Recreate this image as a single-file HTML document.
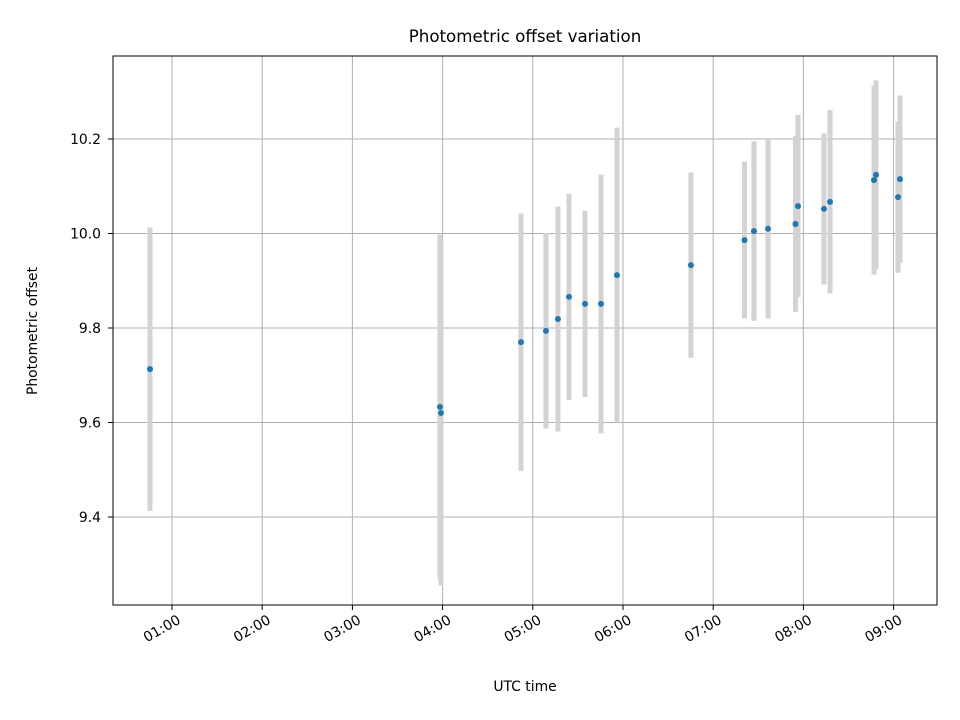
<!DOCTYPE html>
<html><head><meta charset="utf-8"><style>
html,body{margin:0;padding:0;background:#fff;}
svg{display:block;font-family:"DejaVu Sans","Liberation Sans",sans-serif;}
</style></head><body>
<svg id="chart" width="960" height="720" viewBox="0 0 960 720" xmlns="http://www.w3.org/2000/svg">
<rect width="960" height="720" fill="#fff"/>
<text x="525" y="42" text-anchor="middle" font-size="16.67">Photometric offset variation</text>
<text x="525" y="691" text-anchor="middle" font-size="13.9">UTC time</text>
<text transform="translate(37,331) rotate(-90)" text-anchor="middle" font-size="13.9">Photometric offset</text>
<g id="grid"></g>
<g id="errs"></g>
<g id="pts"></g>
<g id="axes"></g>
<rect x="113" y="56" width="824" height="549" fill="none" stroke="#000" stroke-width="1"/>
</svg>
<script>
const times = [0.756,3.971,3.982,4.869,5.146,5.279,5.401,5.579,5.756,5.933,6.753,7.347,7.452,7.608,7.912,7.940,8.228,8.295,8.783,8.805,9.049,9.071];
const offsets = [9.713,9.633,9.620,9.770,9.794,9.819,9.866,9.851,9.851,9.912,9.933,9.986,10.005,10.010,10.020,10.058,10.052,10.067,10.113,10.124,10.077,10.115];
const errors = [0.300,0.365,0.365,0.272,0.207,0.238,0.218,0.197,0.274,0.312,0.196,0.166,0.190,0.190,0.186,0.193,0.160,0.194,0.200,0.200,0.160,0.177];
const xTicks = [1,2,3,4,5,6,7,8,9];
const xTickLabels = ["01:00","02:00","03:00","04:00","05:00","06:00","07:00","08:00","09:00"];
const yTicks = [9.4,9.6,9.8,10.0,10.2];
const yTickLabels = ["9.4","9.6","9.8","10.0","10.2"];

const NS="http://www.w3.org/2000/svg";
function xs(h){return 172+(h-1)*90.2;}
function ys(v){return 233.5-(v-10.0)*472.5;}
function mk(tag,attrs,parent){const e=document.createElementNS(NS,tag);for(const k in attrs)e.setAttribute(k,attrs[k]);parent.appendChild(e);return e;}
const grid=document.getElementById('grid'),axes=document.getElementById('axes'),errs=document.getElementById('errs'),pts=document.getElementById('pts');
xTicks.forEach((t,i)=>{
  const x=xs(t);
  const g=mk('line',{x1:x,x2:x,y1:56,y2:605,stroke:'#b0b0b0','stroke-width':1},grid);
  
  
  const tk=mk('line',{x1:x,x2:x,y1:605,y2:610,stroke:'#000'},axes);
  
  
  const tx=mk('text',{x:0,y:11,'text-anchor':'end','font-size':13.9,transform:`translate(${x+4},613) rotate(-30)`},axes);
  tx.textContent=xTickLabels[i];
  
  
});
yTicks.forEach((t,i)=>{
  const y=ys(t);
  const g=mk('line',{x1:113,x2:937,y1:y,y2:y,stroke:'#b0b0b0','stroke-width':1},grid);
  
  
  const tk=mk('line',{x1:108,x2:113,y1:y,y2:y,stroke:'#000'},axes);
  
  
  const tx=mk('text',{x:101,y:y+5,'text-anchor':'end','font-size':13.9},axes);
  tx.textContent=yTickLabels[i];
  
  
});
times.forEach((t,i)=>{
  const x=xs(t);
  const e=mk('line',{x1:x,x2:x,y1:ys(offsets[i]+errors[i]),y2:ys(offsets[i]-errors[i]),stroke:'#d3d3d3','stroke-width':5},errs);
  
  
  const c=mk('circle',{cx:x,cy:ys(offsets[i]),r:3,fill:'#1f77b4'},pts);
  
  
});
</script>
</body></html>
